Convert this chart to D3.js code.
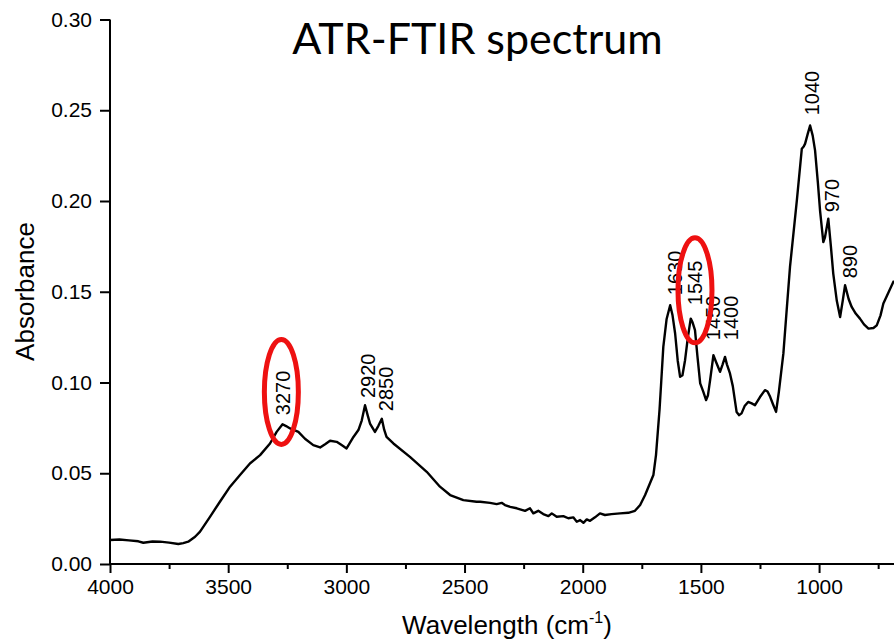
<!DOCTYPE html>
<html>
<head>
<meta charset="utf-8">
<script src="https://cdn.jsdelivr.net/npm/d3@7"></script>
<style>
  html, body { margin: 0; padding: 0; background: #fff; }
  svg { display: block; }
</style>
</head>
<body>
<svg id="chart" width="894" height="640"></svg>
<script>
// ---- data ----
const wavenumber = [4000,3960,3920,3880,3859,3820,3788,3750,3711,3690,3669,3640,3619,3577,3535,3492,3450,3408,3365,3323,3295,3270,3255,3238,3203,3175,3140,3111,3090,3069,3041,3020,2999,2970,2949,2935,2921,2910,2900,2879,2865,2850,2840,2830,2801,2731,2660,2604,2561,2505,2449,2434,2392,2364,2343,2329,2307,2279,2244,2223,2209,2188,2167,2145,2131,2110,2082,2061,2040,2025,2011,1997,1983,1969,1948,1927,1906,1878,1842,1807,1779,1757,1736,1701,1690,1675,1668,1659,1645,1630,1620,1609,1598,1588,1578,1567,1555,1543,1535,1525,1515,1503,1490,1478,1470,1461,1447,1435,1419,1408,1398,1390,1377,1365,1349,1338,1328,1315,1300,1285,1271,1250,1229,1218,1207,1195,1182,1170,1151,1137,1123,1094,1073,1065,1059,1048,1038,1027,1017,1005,996,982,975,961,950,940,925,911,900,890,875,862,845,827,810,791,770,756,740,728,705,686,683];
const absorbance = [0.0132,0.0135,0.0130,0.0125,0.0117,0.0124,0.0123,0.0118,0.0110,0.0115,0.0123,0.0150,0.0178,0.0260,0.0343,0.0426,0.0490,0.0554,0.0600,0.0664,0.0728,0.0770,0.0760,0.0747,0.0728,0.0690,0.0655,0.0642,0.0660,0.0679,0.0673,0.0655,0.0637,0.0700,0.0738,0.0790,0.0875,0.0820,0.0774,0.0728,0.0760,0.0800,0.0740,0.0700,0.0664,0.0590,0.0508,0.0426,0.0380,0.0352,0.0343,0.0343,0.0337,0.0330,0.0337,0.0325,0.0315,0.0307,0.0293,0.0307,0.0279,0.0293,0.0275,0.0264,0.0279,0.0260,0.0264,0.0252,0.0257,0.0233,0.0242,0.0227,0.0246,0.0238,0.0257,0.0279,0.0270,0.0275,0.0279,0.0282,0.0293,0.0325,0.0380,0.0490,0.0600,0.0850,0.1000,0.1196,0.1350,0.1426,0.1370,0.1270,0.1120,0.1031,0.1040,0.1123,0.1250,0.1352,0.1330,0.1288,0.1150,0.0995,0.0950,0.0903,0.0930,0.1013,0.1150,0.1110,0.1059,0.1100,0.1141,0.1100,0.1050,0.0980,0.0838,0.0820,0.0830,0.0870,0.0893,0.0885,0.0875,0.0920,0.0958,0.0950,0.0921,0.0880,0.0838,0.0950,0.1160,0.1400,0.1637,0.2004,0.2288,0.2300,0.2316,0.2370,0.2416,0.2360,0.2279,0.2100,0.1949,0.1774,0.1800,0.1903,0.1750,0.1600,0.1450,0.1361,0.1450,0.1536,0.1460,0.1416,0.1380,0.1352,0.1320,0.1297,0.1300,0.1315,0.1370,0.1435,0.1500,0.1554,0.1560];

const xTicks = [4000,3500,3000,2500,2000,1500,1000];
const xMinorTicks = [3750,3250,2750,2250,1750,1250,750];
const yTicks = [0.00,0.05,0.10,0.15,0.20,0.25,0.30];

const peakLabels = ["3270","2920","2850","1630","1545","1450","1400","1040","970","890"];
const peakLabelX = [3268,2910,2832,1611,1527,1451,1374,1032,945,871];
const peakLabelY = [0.0820,0.0914,0.0842,0.1481,0.1426,0.1233,0.1233,0.2472,0.1938,0.1574];

const highlightX = [3275,1525];
const highlightY = [0.0948,0.1508];

const titleText = "ATR-FTIR spectrum";
const xTitle = "Wavelength (cm";
const yTitle = "Absorbance";

// ---- drawing ----
(function () {
const svg = d3.select("#chart");
const mLeft = 110, mRight = 894, mTop = 19.5, mBottom = 564;

const x = d3.scaleLinear().domain([4000, 683]).range([mLeft, mRight]);
const y = d3.scaleLinear().domain([0, 0.30]).range([mBottom, mTop]);

const tickFont = "'Liberation Sans', Arial, sans-serif";

// x axis
const xAxis = d3.axisBottom(x).tickValues(xTicks).tickSize(9).tickPadding(6).tickFormat(d3.format("d"));
const gx = svg.append("g").attr("transform", `translate(0,${mBottom})`).call(xAxis);
gx.select(".domain").attr("d", `M${mLeft},0H${mRight}`).attr("stroke", "#000").attr("stroke-width", 2);
gx.selectAll(".tick line").attr("stroke", "#000").attr("stroke-width", 2);
gx.selectAll(".tick text").attr("font-family", tickFont).attr("font-size", 21).attr("fill", "#000");

const gxm = svg.append("g").attr("transform", `translate(0,${mBottom})`)
  .call(d3.axisBottom(x).tickValues(xMinorTicks).tickSize(5).tickFormat(""));
gxm.select(".domain").remove();
gxm.selectAll(".tick line").attr("stroke", "#000").attr("stroke-width", 2);

// y axis
const yAxis = d3.axisLeft(y).tickValues(yTicks).tickSize(10).tickPadding(8).tickFormat(d3.format(".2f"));
const gy = svg.append("g").attr("transform", `translate(${mLeft},0)`).call(yAxis);
gy.select(".domain").attr("d", `M0,${mTop}V${mBottom}`).attr("stroke", "#000").attr("stroke-width", 2);
gy.selectAll(".tick line").attr("stroke", "#000").attr("stroke-width", 2);
gy.selectAll(".tick text").attr("font-family", tickFont).attr("font-size", 21).attr("fill", "#000");

// spectrum line
const pts = wavenumber.map((w, i) => [w, absorbance[i]]);
svg.append("path")
  .datum(pts)
  .attr("fill", "none")
  .attr("stroke", "#000")
  .attr("stroke-width", 2.4)
  .attr("stroke-linejoin", "round")
  .attr("d", d3.line().x(d => x(d[0])).y(d => y(d[1])));

// peak labels
svg.append("g").selectAll("text")
  .data(peakLabels)
  .join("text")
  .attr("transform", (d, i) => `translate(${x(peakLabelX[i])},${y(peakLabelY[i])}) rotate(-90)`)
  .attr("dy", "0.36em")
  .attr("text-anchor", "start")
  .attr("font-family", tickFont)
  .attr("font-size", 20)
  .attr("fill", "#000")
  .text(d => d);

// red highlight ellipses
svg.append("g").selectAll("ellipse")
  .data(highlightX)
  .join("ellipse")
  .attr("cx", d => x(d))
  .attr("cy", (d, i) => y(highlightY[i]))
  .attr("rx", 17)
  .attr("ry", 52.5)
  .attr("fill", "none")
  .attr("stroke", "#ee1111")
  .attr("stroke-width", 5);

// axis titles
svg.append("text")
  .attr("transform", `translate(34,291.5) rotate(-90)`)
  .attr("text-anchor", "middle")
  .attr("font-family", tickFont)
  .attr("font-size", 26)
  .attr("fill", "#000")
  .text(yTitle);

const xt = svg.append("text")
  .attr("x", 507)
  .attr("y", 634)
  .attr("text-anchor", "middle")
  .attr("font-family", tickFont)
  .attr("font-size", 26)
  .attr("fill", "#000");
xt.append("tspan").text(xTitle);
xt.append("tspan").attr("font-size", 16).attr("dy", -11).text("-1");
xt.append("tspan").attr("dy", 11).text(")");

// title
svg.append("text")
  .attr("x", 477.5)
  .attr("y", 54)
  .attr("text-anchor", "middle")
  .attr("font-family", "Lato, 'Open Sans', sans-serif")
  .attr("font-size", 43)
  .attr("fill", "#000")
  .text(titleText);
})();
</script>
</body>
</html>
